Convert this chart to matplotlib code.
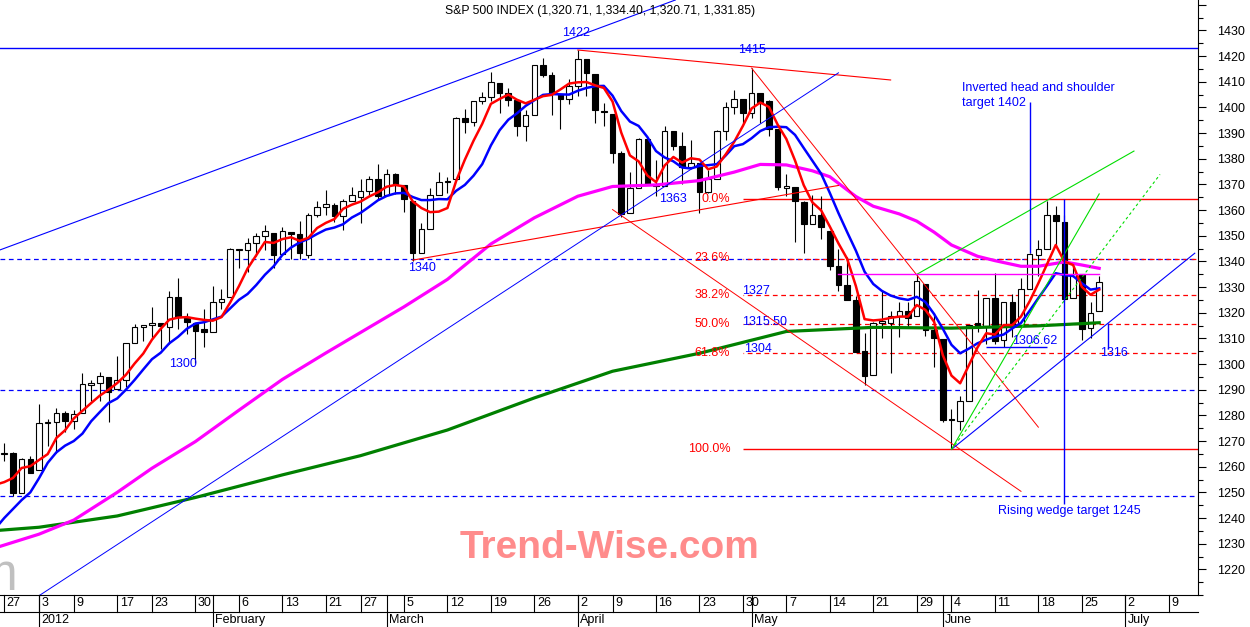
import pandas as pd
import matplotlib
matplotlib.use('Agg')
import matplotlib.pyplot as plt
import matplotlib.transforms as mtransforms
from matplotlib.lines import Line2D
from matplotlib.ticker import MultipleLocator

plt.rcParams['font.family'] = ['Liberation Sans', 'DejaVu Sans']

# trading days on the chart, then the empty weekdays on the right
holidays = ['2011-12-26', '2012-01-02', '2012-01-16', '2012-02-20', '2012-04-06', '2012-05-28']
days = pd.bdate_range('2011-12-23', '2012-06-27')
days = days[~days.isin(pd.to_datetime(holidays))]
all_days = days.append(pd.bdate_range('2012-06-28', '2012-07-13'))
pos = {d: i for i, d in enumerate(all_days)}


def X(d):
    return pos[pd.Timestamp(d)]


# S&P 500 daily candles, 23 Dec 2011 .. 27 Jun 2012
opens = [1254.00, 1265.02, 1265.38, 1249.75, 1262.82,
         1258.86, 1277.03, 1277.30, 1280.93, 1277.83, 1280.77, 1292.02, 1292.48, 1294.82, 1290.22,
         1293.65, 1308.07, 1314.49, 1315.29, 1315.96, 1314.40, 1326.28, 1318.25, 1316.16, 1313.53,
         1312.45, 1324.24, 1326.21, 1344.32, 1344.33, 1347.04, 1349.97, 1351.21, 1343.06, 1351.30,
         1350.52, 1342.61, 1358.06, 1361.22, 1362.11, 1357.53, 1363.46, 1365.20, 1367.56, 1372.20,
         1365.90, 1374.09, 1369.59, 1363.63, 1343.39, 1352.65, 1365.97, 1370.78, 1371.92, 1395.95,
         1394.17, 1402.55, 1404.17, 1409.59, 1405.52, 1402.89, 1392.78, 1397.11, 1416.55, 1412.52,
         1405.39, 1403.31,
         1408.47, 1418.98, 1413.09, 1398.79, 1397.45, 1382.18, 1358.98, 1368.77, 1387.61, 1370.27,
         1369.57, 1390.78, 1385.08, 1376.96, 1378.53, 1366.97, 1372.11, 1390.64, 1400.19, 1403.26,
         1397.86, 1405.50, 1402.32, 1391.51, 1368.79, 1369.16, 1363.20, 1354.58, 1358.11, 1351.93,
         1338.36, 1330.78, 1324.82, 1305.05, 1295.73, 1316.09, 1316.02, 1318.72, 1320.64, 1318.90,
         1331.25, 1313.09,
         1309.87, 1278.29, 1277.82, 1285.61, 1316.15, 1314.99, 1325.72, 1309.40, 1324.02, 1314.88,
         1329.19, 1342.42, 1344.83, 1357.98, 1355.43, 1325.92, 1334.90, 1314.09, 1320.71]
highs = [1265.42, 1269.37, 1265.85, 1263.54, 1264.12,
         1284.62, 1278.73, 1283.05, 1281.84, 1281.99, 1296.46, 1293.80, 1296.82, 1294.82, 1303.00,
         1308.11, 1315.49, 1315.38, 1322.28, 1315.96, 1328.30, 1333.47, 1320.06, 1316.16, 1321.41,
         1330.52, 1329.19, 1345.34, 1344.36, 1349.24, 1351.00, 1354.32, 1351.21, 1353.35, 1351.30,
         1355.87, 1359.02, 1363.40, 1367.76, 1362.70, 1364.24, 1368.92, 1371.94, 1373.09, 1378.04,
         1376.17, 1374.53, 1369.59, 1363.63, 1354.85, 1368.72, 1374.76, 1373.04, 1396.13, 1399.42,
         1402.63, 1405.88, 1414.00, 1409.59, 1407.75, 1402.89, 1399.18, 1416.58, 1419.15, 1413.65,
         1405.39, 1410.89,
         1422.38, 1419.00, 1413.09, 1401.60, 1397.45, 1383.01, 1374.71, 1388.13, 1387.61, 1379.66,
         1392.76, 1390.78, 1390.46, 1387.40, 1378.53, 1375.57, 1391.37, 1402.09, 1406.64, 1403.26,
         1415.32, 1405.50, 1403.07, 1391.51, 1373.91, 1369.16, 1363.73, 1365.88, 1365.66, 1351.93,
         1344.94, 1341.78, 1326.36, 1312.24, 1316.39, 1328.49, 1320.71, 1324.14, 1324.20, 1334.93,
         1331.25, 1319.74,
         1309.87, 1282.55, 1287.62, 1315.13, 1329.05, 1325.81, 1335.52, 1324.31, 1327.28, 1333.68,
         1343.32, 1348.22, 1363.46, 1361.57, 1358.27, 1337.82, 1334.90, 1324.24, 1334.40]
lows = [1253.03, 1262.30, 1248.64, 1249.75, 1257.46,
        1258.86, 1268.10, 1265.26, 1273.34, 1274.55, 1280.77, 1285.41, 1285.77, 1277.58, 1290.22,
        1290.99, 1308.07, 1309.17, 1309.89, 1306.06, 1307.65, 1313.60, 1311.72, 1300.49, 1306.69,
        1312.45, 1321.57, 1326.21, 1337.52, 1335.92, 1341.95, 1344.63, 1337.35, 1343.06, 1340.83,
        1340.80, 1341.22, 1357.24, 1358.11, 1355.53, 1352.28, 1363.46, 1354.92, 1365.97, 1363.81,
        1365.90, 1366.42, 1359.13, 1340.03, 1343.39, 1352.65, 1365.97, 1366.69, 1371.92, 1389.97,
        1392.78, 1401.47, 1402.43, 1397.68, 1400.64, 1388.73, 1386.87, 1397.11, 1411.95, 1397.20,
        1391.56, 1401.42,
        1404.46, 1404.62, 1394.09, 1392.92, 1378.24, 1357.38, 1358.98, 1368.77, 1369.85, 1365.38,
        1369.57, 1383.29, 1370.30, 1376.96, 1358.79, 1366.82, 1372.11, 1387.28, 1397.31, 1394.00,
        1395.73, 1393.92, 1388.71, 1367.96, 1365.56, 1347.75, 1343.13, 1354.58, 1348.89, 1336.61,
        1328.41, 1324.79, 1304.86, 1291.98, 1295.73, 1310.04, 1296.53, 1310.50, 1314.23, 1318.90,
        1310.76, 1298.90,
        1277.25, 1266.74, 1274.16, 1285.61, 1312.68, 1307.77, 1307.73, 1306.62, 1310.51, 1314.14,
        1329.19, 1334.46, 1344.83, 1346.45, 1324.41, 1325.92, 1309.27, 1310.30, 1320.71]
closes = [1265.33, 1265.43, 1249.64, 1263.02, 1257.60,
          1277.06, 1277.30, 1281.06, 1277.81, 1280.70, 1292.08, 1292.48, 1295.50, 1289.09, 1293.67,
          1308.04, 1314.50, 1315.38, 1316.00, 1314.65, 1326.06, 1318.43, 1316.33, 1313.01, 1312.41,
          1324.09, 1325.54, 1344.90, 1344.33, 1347.05, 1349.96, 1351.95, 1342.64, 1351.77, 1350.50,
          1343.23, 1358.04, 1361.23, 1362.21, 1357.66, 1363.46, 1365.74, 1367.59, 1372.18, 1365.68,
          1374.09, 1369.63, 1364.33, 1343.36, 1352.63, 1365.91, 1370.87, 1371.09, 1395.95, 1394.28,
          1402.60, 1404.17, 1409.75, 1405.52, 1402.89, 1392.78, 1397.11, 1416.51, 1412.52, 1405.54,
          1403.28, 1408.47,
          1419.04, 1413.38, 1398.96, 1398.08, 1382.20, 1358.59, 1368.71, 1387.57, 1370.26, 1369.57,
          1390.78, 1385.14, 1376.92, 1378.53, 1366.94, 1371.97, 1390.69, 1399.98, 1403.36, 1397.91,
          1405.82, 1402.31, 1391.57, 1369.10, 1369.58, 1363.72, 1354.58, 1357.99, 1353.39, 1338.35,
          1330.66, 1324.80, 1304.86, 1295.22, 1315.99, 1316.63, 1318.86, 1320.68, 1317.82, 1332.42,
          1313.32, 1310.33,
          1278.04, 1278.18, 1285.50, 1315.13, 1314.99, 1325.66, 1308.93, 1324.18, 1314.88, 1329.10,
          1342.84, 1344.78, 1357.98, 1355.69, 1325.51, 1335.02, 1313.72, 1319.99, 1331.85]

# short moving averages, one value per candle
ma_red = [1253.0, 1254.0, 1255.6, 1259.5, 1260.2, 1262.6, 1264.9, 1271.2, 1274.2, 1278.8,
          1281.8, 1284.8, 1287.7, 1290.0, 1292.6, 1295.8, 1300.2, 1304.1, 1309.5, 1313.7,
          1317.3, 1318.1, 1318.3, 1317.7, 1317.2, 1316.9, 1318.3, 1324.0, 1330.3, 1337.2,
          1342.4, 1347.6, 1347.2, 1348.7, 1349.4, 1348.0, 1349.2, 1353.0, 1355.0, 1356.5,
          1360.5, 1362.1, 1363.3, 1365.3, 1366.9, 1369.1, 1369.8, 1369.2, 1363.4, 1360.8,
          1359.2, 1359.4, 1360.8, 1371.3, 1379.6, 1387.0, 1393.6, 1401.4, 1403.3, 1405.0,
          1403.0, 1401.6, 1403.0, 1404.4, 1404.9, 1407.0, 1409.3, 1409.8, 1409.9, 1408.6,
          1407.6, 1402.3, 1390.2, 1381.3, 1379.0, 1373.5, 1370.9, 1377.4, 1380.7, 1378.5,
          1380.2, 1379.7, 1375.9, 1377.0, 1381.6, 1386.6, 1392.8, 1399.6, 1401.9, 1400.2,
          1393.3, 1387.7, 1379.3, 1369.7, 1363.0, 1359.9, 1353.6, 1347.0, 1341.0, 1330.4,
          1317.5, 1317.0, 1317.3, 1318.0, 1318.5, 1318.5, 1323.0, 1321.1, 1316.5, 1303.5,
          1295.5, 1292.5, 1299.5, 1306.5, 1312.0, 1311.5, 1315.2, 1315.2, 1318.5, 1324.5,
          1331.5, 1339.0, 1346.4, 1339.9, 1338.6, 1330.1, 1327.0, 1329.0]
ma_blue = [1236.0, 1240.0, 1243.5, 1247.0, 1250.0, 1255.5, 1261.5, 1265.6, 1268.2, 1270.0,
           1272.9, 1277.7, 1281.3, 1284.8, 1286.6, 1290.0, 1293.8, 1297.9, 1301.9, 1304.4,
           1308.1, 1310.6, 1313.7, 1315.8, 1316.3, 1317.4, 1318.5, 1321.7, 1325.0, 1327.3,
           1330.8, 1334.8, 1338.1, 1342.5, 1345.4, 1347.4, 1348.8, 1350.7, 1352.4, 1353.2,
           1354.5, 1357.1, 1358.9, 1361.3, 1363.8, 1365.5, 1366.5, 1366.7, 1365.1, 1363.9,
           1363.9, 1364.3, 1364.2, 1367.5, 1369.8, 1373.4, 1377.9, 1385.2, 1391.1, 1395.2,
           1397.7, 1400.6, 1402.8, 1404.9, 1405.2, 1405.1, 1405.0, 1406.5, 1407.6, 1408.3,
           1408.4, 1404.6, 1398.6, 1394.5, 1392.8, 1388.5, 1383.0, 1380.5, 1379.0, 1376.6,
           1376.2, 1377.2, 1377.5, 1377.9, 1381.2, 1384.9, 1385.7, 1388.0, 1390.8, 1392.3,
           1392.5, 1392.3, 1389.3, 1384.2, 1379.2, 1374.2, 1366.7, 1358.8, 1351.4, 1344.2,
           1336.0, 1331.2, 1328.5, 1326.7, 1325.6, 1325.0, 1326.2, 1324.2, 1319.5, 1313.8,
           1307.5, 1304.2, 1306.0, 1308.1, 1309.5, 1310.7, 1311.5, 1313.9, 1316.0, 1320.8,
           1325.7, 1330.5, 1335.4, 1334.7, 1334.3, 1331.5, 1329.0, 1329.5]

# 50-day (magenta) and 200-day (green) averages
ma50_dates = ['2011-12-23', '2012-01-03', '2012-01-09', '2012-01-17', '2012-01-23', '2012-01-30',
              '2012-02-06', '2012-02-13', '2012-02-21', '2012-02-27', '2012-03-05', '2012-03-12',
              '2012-03-19', '2012-03-26', '2012-04-02', '2012-04-09', '2012-04-16', '2012-04-23',
              '2012-04-27', '2012-05-02', '2012-05-07', '2012-05-10', '2012-05-14', '2012-05-17',
              '2012-05-21', '2012-05-24', '2012-05-29', '2012-05-31', '2012-06-04', '2012-06-07',
              '2012-06-11', '2012-06-14', '2012-06-18', '2012-06-21', '2012-06-25', '2012-06-27']
ma50 = [1228.4, 1233.7, 1239.2, 1250.0, 1259.4, 1269.8,
        1282.0, 1294.0, 1304.3, 1312.3, 1322.3, 1333.0,
        1346.8, 1357.0, 1365.4, 1369.2, 1369.8, 1371.5,
        1374.8, 1377.8, 1377.6, 1375.3, 1373.0, 1365.3,
        1361.5, 1358.5, 1355.7, 1351.4, 1346.4, 1342.0,
        1340.3, 1338.1, 1338.1, 1339.8, 1338.6, 1337.3]
ma200_dates = ['2011-12-23', '2012-01-03', '2012-01-17', '2012-01-30', '2012-02-13', '2012-02-27',
               '2012-03-12', '2012-03-26', '2012-04-09', '2012-04-23', '2012-05-07', '2012-05-21',
               '2012-06-04', '2012-06-18', '2012-06-27']
ma200 = [1235.1, 1236.4, 1240.8, 1248.0, 1256.8, 1264.3,
         1274.3, 1286.8, 1297.2, 1304.2, 1312.7, 1314.3,
         1314.0, 1314.9, 1316.1]

# drawn studies: (date, price) end points
upper_channel = [('2012-01-03', 1350.1), ('2012-04-02', 1427.8)]
top_line = [('2012-04-02', 1422.38), ('2012-05-23', 1410.7)]
fall_line_1 = [('2012-05-01', 1415.32), ('2012-06-18', 1275.4)]
fall_line_2 = [('2012-04-09', 1360.2), ('2012-06-14', 1250.4)]
rise_line = [('2012-03-06', 1340.5), ('2012-05-15', 1369.6)]
long_blue = [('2011-12-30', 1207.5), ('2012-05-15', 1413.5)]
wedge_blue = [('2012-06-04', 1266.74), ('2012-07-12', 1343.2)]
neck_green = [('2012-05-29', 1334.93), ('2012-07-03', 1383.0)]
fan_solid = [('2012-06-04', 1266.74), ('2012-06-27', 1366.3)]
fan_dotted = [('2012-06-04', 1266.74), ('2012-07-06', 1373.9)]
neck_pink = [('2012-05-15', 1334.93), ('2012-06-27', 1334.93)]
blue_levels = [1341.0, 1290.0, 1248.64]
top_level = 1423.3
fib_start = '2012-04-30'
fib_solid = [1364.2, 1266.8]
fib_dashed = [1341.0, 1326.9, 1315.5, 1304.2]
fib_names = ['0.0%', '23.6%', '38.2%', '50.0%', '61.8%', '100.0%']
fib_name_y = [1364.3, 1341.3, 1326.9, 1315.5, 1304.2, 1266.8]

fig = plt.figure(figsize=(12.5, 6.27), dpi=100)
ax = fig.add_axes([0, 32 / 627, 1198 / 1250, 595 / 627])
ax.set_xlim(0.512, 138.37)
ax.set_ylim(1210.0, 1441.87)
x_lo, x_hi = ax.get_xlim()

BLUE, RED, GREEN = '#0000ff', '#ff0000', '#00dd00'

# candles
xs = list(range(len(days)))
ax.vlines(xs, lows, highs, color='black', lw=0.8, zorder=2)
bottoms = [min(o, c) for o, c in zip(opens, closes)]
heights = [max(abs(c - o), 0.4) for o, c in zip(opens, closes)]
fills = ['white' if c >= o else 'black' for o, c in zip(opens, closes)]
ax.bar(xs, heights, bottom=bottoms, width=0.64, color=fills, edgecolor='black', linewidth=0.8, zorder=2.5)

# averages
ax.plot([X(d) for d in ma200_dates], ma200, color='#008000', lw=2.3, zorder=3)
ax.plot([X(d) for d in ma50_dates], ma50, color='#ff00ff', lw=2.3, zorder=3)
ax.plot(xs, ma_blue, color=BLUE, lw=1.8, zorder=4)
ax.plot(xs, ma_red, color=RED, lw=1.8, zorder=4.5)


def seg(points, **kw):
    ax.plot([X(d) for d, v in points], [v for d, v in points], zorder=5, **kw)


ax.axline((X(upper_channel[0][0]), upper_channel[0][1]),
          (X(upper_channel[1][0]), upper_channel[1][1]), color=BLUE, lw=0.8, zorder=5)
ax.axhline(top_level, color=BLUE, lw=1.0, zorder=5)
for lv in blue_levels:
    ax.axhline(lv, color=BLUE, lw=0.9, ls=(0, (3.8, 2.9)), zorder=1.5)
seg(top_line, color=RED, lw=0.8)
seg(fall_line_1, color=RED, lw=0.7)
seg(fall_line_2, color=RED, lw=0.7)
seg(rise_line, color=RED, lw=0.8)
seg(long_blue, color=BLUE, lw=0.7)
seg(wedge_blue, color=BLUE, lw=0.8)
seg(neck_green, color=GREEN, lw=0.8)
seg(fan_solid, color=GREEN, lw=0.8)
seg(fan_dotted, color=GREEN, lw=0.8, ls=(0, (2.5, 2.5)))
seg(neck_pink, color='#ff00ff', lw=1.0)

ax.hlines(fib_solid, X(fib_start), x_hi, color=RED, lw=1.0, zorder=1.6)
ax.hlines(fib_dashed, X(fib_start), x_hi, color=RED, lw=0.9, linestyles=[(3.3, (3.8, 2.9))], zorder=1.6)
for name, v in zip(fib_names, fib_name_y):
    ax.text(X(fib_start) - 1.45, v, name, color=RED, fontsize=9, ha='right', va='center')
for name, v, dx in [('1327', 1328.5, -0.1), ('1315.50', 1316.5, -0.1), ('1304', 1305.7, 0.15)]:
    ax.text(X(fib_start) + dx, v, name, color=BLUE, fontsize=9, ha='left', va='center')

# target lines
ax.vlines(X('2012-06-15'), 1343.3, 1402.0, color=BLUE, lw=1.0, zorder=5)
ax.vlines(X('2012-06-21'), 1245.5, 1364.2, color=BLUE, lw=1.0, zorder=5)
ax.hlines(1306.62, X('2012-06-08'), X('2012-06-19'), color=BLUE, lw=1.0, zorder=5)
ax.vlines(X('2012-06-28'), 1306.0, 1316.0, color=BLUE, lw=1.0, zorder=5)

labels = [('1422', X('2012-04-02') - 0.2, 1429.0, 'center'),
          ('1415', X('2012-05-01'), 1422.4, 'center'),
          ('1340', X('2012-03-06') + 1.1, 1337.3, 'center'),
          ('1300', X('2012-01-30') - 1.4, 1300.0, 'center'),
          ('1363', X('2012-04-18'), 1364.3, 'center'),
          ('Inverted head and shoulder', X('2012-06-05') + 0.25, 1407.4, 'left'),
          ('target 1402', X('2012-06-05') + 0.25, 1401.6, 'left'),
          ('Rising wedge target 1245', X('2012-06-11') + 0.4, 1242.9, 'left'),
          ('1306.62', X('2012-06-13'), 1309.1, 'left'),
          ('1316', X('2012-06-27') + 0.1, 1304.2, 'left')]
for t, x, y, ha in labels:
    ax.text(x, y, t, color=BLUE, fontsize=9, ha=ha, va='center', zorder=6)

# right price scale
ax.yaxis.tick_right()
ticks = list(range(1220, 1450, 10))
ax.set_yticks(ticks)
ax.set_yticklabels([str(t) if t <= 1430 else '' for t in ticks])
ax.yaxis.set_minor_locator(MultipleLocator(5))
ax.tick_params(axis='y', which='major', length=6, width=0.8, pad=8, labelsize=9)
ax.tick_params(axis='y', which='minor', length=3.5, width=0.8)
ax.tick_params(axis='x', which='both', bottom=False, labelbottom=False)
for side in ['top', 'left']:
    ax.spines[side].set_visible(False)
for side in ['right', 'bottom']:
    ax.spines[side].set_linewidth(0.8)


# date scale: week row and month row
def fy(py):
    return 1 - py / 627


trans = mtransforms.blended_transform_factory(ax.transData, fig.transFigure)
lab_trans = mtransforms.offset_copy(trans, fig=fig, x=2.5, y=0, units='dots')
fig.add_artist(Line2D([0, 1198 / 1250], [fy(612), fy(612)], color='black', lw=0.8))
for i, d in enumerate(all_days):
    if not (x_lo < i < x_hi):
        continue
    new_week = d.isocalendar()[1] != all_days[i - 1].isocalendar()[1]
    new_month = d.month != all_days[i - 1].month
    if new_week:
        ax.plot([i, i], [fy(595), fy(612)], color='black', lw=0.8, transform=trans, clip_on=False)
        ax.text(i, fy(603.5), str(d.day), transform=lab_trans, fontsize=9, ha='left', va='center')
    if new_month:
        ax.plot([i, i], [fy(595), fy(627)], color='black', lw=0.8, transform=trans, clip_on=False)
        name = str(d.year) if d.month == 1 else d.strftime('%B')
        ax.text(i, fy(620), name, transform=lab_trans, fontsize=9, ha='left', va='center')

title = 'S&P 500 INDEX ({:,.2f}, {:,.2f}, {:,.2f}, {:,.2f})'.format(opens[-1], highs[-1], lows[-1], closes[-1])
fig.text(600 / 1250, fy(11), title, ha='center', va='center', fontsize=8.8)
fig.text(610 / 1250, fy(558), 'Trend-Wise.com', ha='center', va='baseline', fontsize=28,
         fontweight='bold', color='#ff8c8c')
fig.text(17 / 1250, fy(590), 'm', ha='right', va='baseline', fontsize=37, color='#c0c0c0')

fig.savefig('out.png', dpi=100)
